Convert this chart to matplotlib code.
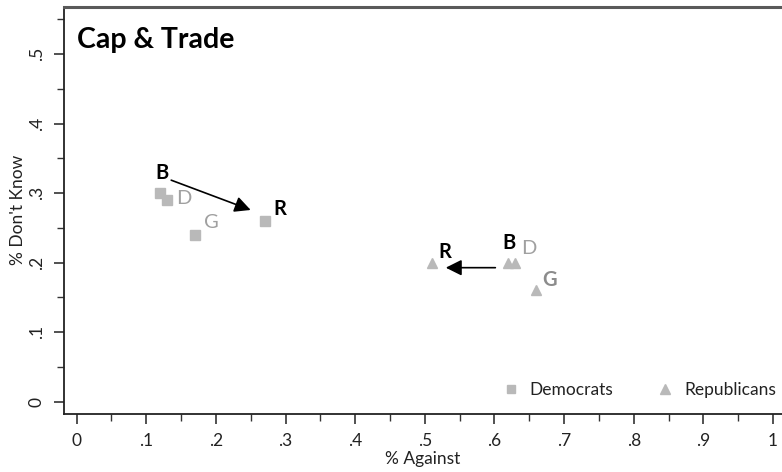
import matplotlib.pyplot as plt
from matplotlib.ticker import MultipleLocator, FuncFormatter
from matplotlib.transforms import offset_copy

plt.rcParams['font.family'] = ['Lato', 'DejaVu Sans']

# share against / share don't know, by party and treatment
labels = ['B', 'D', 'G', 'R']
dem_against = [0.12, 0.13, 0.17, 0.27]
dem_dontknow = [0.30, 0.29, 0.24, 0.26]
rep_against = [0.62, 0.63, 0.66, 0.51]
rep_dontknow = [0.20, 0.20, 0.16, 0.20]

point_grey = '#b9b9b9'

fig = plt.figure(figsize=(7.82, 4.72), dpi=100)
ax = fig.add_axes([64 / 782, 1 - 413.7 / 472, 1 - 64 / 782, (413.7 - 6.5) / 472])

ax.plot(dem_against, dem_dontknow, linestyle='none', marker='s', ms=6.5,
        color=point_grey, label='Democrats')
ax.plot(rep_against, rep_dontknow, linestyle='none', marker='^', ms=7.5,
        color=point_grey, label='Republicans')

ax.set_xlim(-0.0182, 1.013)
ax.set_ylim(-0.0173, 0.5686)

def offset(dx, dy):
    return offset_copy(ax.transData, fig=fig, x=dx, y=dy, units='dots')

# letter styles: B and R bold black, D light grey
style = {
    'B': dict(color='black', fontweight='bold'),
    'R': dict(color='black', fontweight='bold'),
    'D': dict(color='#a0a0a0', fontweight='normal'),
}
dem_offsets = {'B': (2, 20), 'D': (17, 2), 'G': (16, 12), 'R': (15, 12)}
rep_offsets = {'B': (1, 20), 'D': (13, 14), 'G': (13, 10), 'R': (13, 11)}

for lab, x, y in zip(labels, dem_against, dem_dontknow):
    kw = style.get(lab, dict(color='#a0a0a0', fontweight='normal'))
    dx, dy = dem_offsets[lab]
    ax.text(x, y, lab, transform=offset(dx, dy), ha='center', va='center',
            fontsize=14.5, **kw)

for lab, x, y in zip(labels, rep_against, rep_dontknow):
    kw = style.get(lab, dict(color='#8c8c8c', fontweight='bold'))
    dx, dy = rep_offsets[lab]
    ax.text(x, y, lab, transform=offset(dx, dy), ha='center', va='center',
            fontsize=14.5, **kw)

# arrows from B to R
arrow = dict(arrowstyle='-|>', mutation_scale=24, lw=1.2, color='black',
             shrinkA=0, shrinkB=0)
ax.annotate('', xy=(dem_against[3], dem_dontknow[3]), xycoords=offset(-14, 11),
            xytext=(dem_against[0], dem_dontknow[0]), textcoords=offset(11, 13),
            arrowprops=arrow)
ax.annotate('', xy=(rep_against[3], rep_dontknow[3]), xycoords=offset(14, -5),
            xytext=(rep_against[0], rep_dontknow[0]), textcoords=offset(-13, -5),
            arrowprops=arrow)

ax.text(0.018, 0.898, 'Cap & Trade', transform=ax.transAxes, fontsize=20.5,
        fontweight='bold', va='baseline', ha='left')

def stata_fmt(v, pos):
    if abs(v) < 1e-9:
        return '0'
    if abs(v - 1) < 1e-9:
        return '1'
    return ('%.1f' % v).lstrip('0')

ax.xaxis.set_major_locator(MultipleLocator(0.1))
ax.xaxis.set_minor_locator(MultipleLocator(0.05))
ax.yaxis.set_major_locator(MultipleLocator(0.1))
ax.yaxis.set_minor_locator(MultipleLocator(0.05))
ax.xaxis.set_major_formatter(FuncFormatter(stata_fmt))
ax.yaxis.set_major_formatter(FuncFormatter(stata_fmt))

ax.tick_params(which='major', length=7, width=1.2, color='#333333',
               labelsize=12.5, labelcolor='#222222', pad=7)
ax.tick_params(which='minor', length=5, width=1.0, color='#333333')
for t in ax.get_yticklabels():
    t.set_rotation(90)
    t.set_va('center')

ax.set_xlabel('% Against', fontsize=12.5, color='#222222', labelpad=1)
ax.set_ylabel("% Don't Know", fontsize=12.5, color='#222222', labelpad=2)

for side in ['left', 'bottom']:
    ax.spines[side].set_linewidth(1.3)
    ax.spines[side].set_color('#222222')
ax.spines['top'].set_linewidth(2.2)
ax.spines['top'].set_color('#5a5a5a')
ax.spines['right'].set_visible(False)

ax.legend(loc='lower right', bbox_to_anchor=(1.014, 0.0), ncol=2, frameon=False,
          fontsize=12.5, handletextpad=0.3, columnspacing=2.2, handlelength=1.6,
          labelcolor='#222222', markerscale=0.9)

fig.savefig('out.png', dpi=100)
